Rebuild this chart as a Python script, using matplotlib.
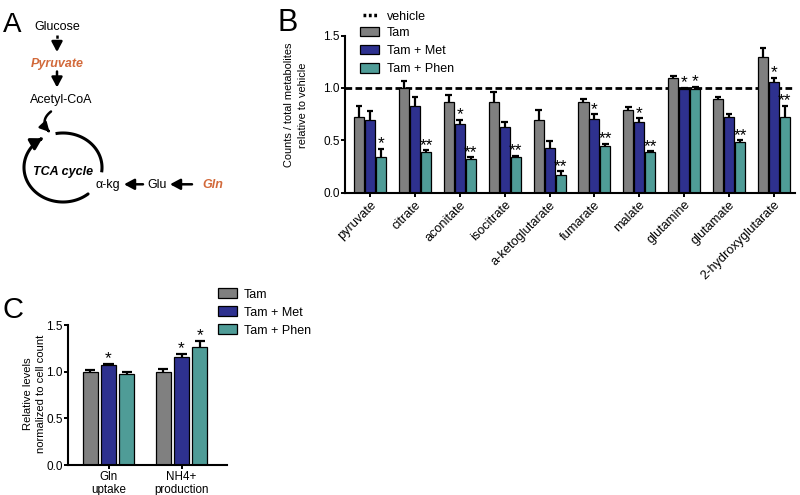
import numpy as np
import matplotlib
matplotlib.use("Agg")
import matplotlib.pyplot as plt
from matplotlib.patches import Rectangle, FancyArrowPatch
from matplotlib.path import Path

plt.rcParams['font.family'] = ['Liberation Sans', 'DejaVu Sans']

# ---------------- data ----------------
metabolites = ["pyruvate", "citrate", "aconitate", "isocitrate", "a-ketoglutarate",
               "fumarate", "malate", "glutamine", "glutamate", "2-hydroxyglutarate"]
series_names = ["Tam", "Tam + Met", "Tam + Phen"]

tam = [0.72, 1.00, 0.865, 0.865, 0.69, 0.865, 0.79, 1.095, 0.89, 1.30]
tam_err = [0.11, 0.07, 0.065, 0.095, 0.10, 0.025, 0.03, 0.015, 0.02, 0.08]
met = [0.695, 0.83, 0.66, 0.63, 0.43, 0.70, 0.67, 0.99, 0.72, 1.06]
met_err = [0.085, 0.08, 0.035, 0.04, 0.06, 0.05, 0.04, 0.01, 0.03, 0.035]
phen = [0.34, 0.39, 0.32, 0.34, 0.17, 0.445, 0.385, 0.99, 0.485, 0.72]
phen_err = [0.08, 0.015, 0.015, 0.01, 0.035, 0.02, 0.01, 0.02, 0.015, 0.11]
met_sig = ["", "", "*", "", "", "*", "*", "*", "", "*"]
phen_sig = ["*", "**", "**", "**", "**", "**", "**", "*", "**", "**"]
vehicle_level = 1.0

c_categories = ["Gln\nuptake", "NH4+\nproduction"]
c_tam = [1.0, 1.0]
c_tam_err = [0.02, 0.03]
c_met = [1.068, 1.158]
c_met_err = [0.018, 0.032]
c_phen = [0.975, 1.266]
c_phen_err = [0.025, 0.067]
c_met_sig = ["*", "*"]
c_phen_sig = ["", "*"]

colors = ["#808080", "#2e318f", "#4f9c97"]
orange = "#d2693a"

W, H = 800, 495
fig = plt.figure(figsize=(8, 4.95), dpi=100)


def frac(x0, y0, x1, y1):
    return [x0 / W, 1 - y1 / H, (x1 - x0) / W, (y1 - y0) / H]


def style_axes(ax):
    for s in ["top", "right"]:
        ax.spines[s].set_visible(False)
    for s in ["left", "bottom"]:
        ax.spines[s].set_linewidth(1.5)
    ax.tick_params(axis="both", width=1.4, length=3, labelsize=8.5)
    ax.tick_params(axis="y", pad=0.8)
    ax.tick_params(axis="x", pad=1.5)
    ax.set_ylim(0, 1.5)
    ax.set_yticks([0, 0.5, 1.0, 1.5])
    ax.set_yticklabels(["0.0", "0.5", "1.0", "1.5"])


def draw_group(ax, x, series, errs, sigs, offsets, width, capw):
    for vals, err, off, col, sig in zip(series, errs, offsets, colors, sigs):
        xs = np.asarray(x) + off
        vals = np.asarray(vals)
        tops = vals + np.asarray(err)
        ax.bar(xs, vals, width=width, color=col, edgecolor="black", linewidth=0.9, zorder=2)
        ax.vlines(xs, vals, tops, color="black", lw=1.6, zorder=3)
        ax.hlines(tops, xs - capw, xs + capw, color="black", lw=1.6, zorder=3)
        if sig is None:
            continue
        for xi, ti, s in zip(xs, tops, sig):
            if s:
                ax.annotate(s, xy=(xi, ti), xytext=(0, 0.3), textcoords="offset points",
                            ha="center", va="baseline", fontsize=12.5, zorder=4)


# ---------------- Panel B ----------------
axB = fig.add_axes(frac(345, 35.7, 795, 192.5))
axB.patch.set_alpha(0)
style_axes(axB)
xb = np.arange(len(metabolites))
axB.axhline(vehicle_level, color="black", lw=2.0, dashes=(2.4, 1.2), zorder=1)
draw_group(axB, xb, [tam, met, phen], [tam_err, met_err, phen_err],
           [None, met_sig, phen_sig], [-0.245, 0, 0.245], 0.225, 0.075)
axB.set_xlim(-0.56, 9.47)
axB.set_xticks(xb)
axB.set_xticklabels(metabolites, rotation=45, ha="right", rotation_mode="anchor",
                    fontsize=9.2)
axB.set_ylabel("Counts / total metabolites\nrelative to vehicle", fontsize=7.9,
               linespacing=1.5)
axB.yaxis.set_label_coords((308 - 345) / 450, (192.5 - 105) / 156.8)

# ---------------- Panel C ----------------
axC = fig.add_axes(frac(68, 325, 227, 465))
axC.patch.set_alpha(0)
style_axes(axC)
xc = np.arange(len(c_categories))
draw_group(axC, xc, [c_tam, c_met, c_phen], [c_tam_err, c_met_err, c_phen_err],
           [None, c_met_sig, c_phen_sig], [-0.25, 0, 0.25], 0.205, 0.07)
axC.set_xlim(-0.555, 1.623)
axC.set_xticks(xc)
axC.set_xticklabels(c_categories, fontsize=8.4, linespacing=1.05)
axC.set_ylabel("Relative levels\nnormalized to cell count", fontsize=8.1,
               linespacing=1.4)
axC.yaxis.set_label_coords((46 - 68) / 159, (465 - 393.5) / 140)

# ---------------- overlay (panel A, legends, letters) ----------------
ov = fig.add_axes([0, 0, 1, 1], zorder=10)
ov.set_xlim(0, W)
ov.set_ylim(H, 0)
ov.axis("off")
ov.patch.set_alpha(0)

# panel letters
for letter, x, y, fs in [("A", 3, 32, 20), ("B", 277, 31, 22), ("C", 3, 318, 21)]:
    ov.text(x, y, letter, fontsize=fs, ha="left", va="baseline")

# legend B
ov.plot([363, 377.5], [15, 15], color="black", lw=2.5, dashes=(0.8, 0.75))
ov.text(387, 15 + 4.5, "vehicle", fontsize=9, va="baseline")
for i, (name, col) in enumerate(zip(series_names, colors)):
    yc = 31.5 + 18.2 * i
    ov.add_patch(Rectangle((360, yc - 4.8), 19, 9.6, facecolor=col, edgecolor="black", lw=0.9))
    ov.text(387, yc + 4.5, name, fontsize=9, va="baseline")

# legend C
for i, (name, col) in enumerate(zip(series_names, colors)):
    yc = 293 + 18 * i
    ov.add_patch(Rectangle((218, yc - 4.8), 19, 9.6, facecolor=col, edgecolor="black", lw=0.9))
    ov.text(244, yc + 4.5, name, fontsize=9, va="baseline")

# panel A diagram
ov.text(57.5, 30, "Glucose", fontsize=9, ha="center", va="baseline")
ov.text(57.5, 66.5, "Pyruvate", fontsize=9, ha="center", va="baseline",
        color=orange, fontweight="bold", fontstyle="italic")
ov.text(60.8, 103, "Acetyl-CoA", fontsize=9, ha="center", va="baseline")
ov.text(62.8, 175.5, "TCA cycle", fontsize=9, ha="center", va="baseline",
        fontweight="bold", fontstyle="italic")
ov.text(107.5, 188, "α-kg", fontsize=9, ha="center", va="baseline")
ov.text(156.7, 188, "Glu", fontsize=9, ha="center", va="baseline")
ov.text(202.5, 188, "Gln", fontsize=9, ha="left", va="baseline",
        color=orange, fontweight="bold", fontstyle="italic")

ov.plot([57, 57], [35, 46], color="black", lw=1.8, dashes=(1.3, 1.0))
astyle = "-|>,head_length=0.6,head_width=0.32"
head = dict(arrowstyle=astyle, color="black", lw=1.8, shrinkA=0, shrinkB=0,
            mutation_scale=10)
ov.annotate("", xy=(57, 52), xytext=(57, 45), arrowprops=head)
ov.annotate("", xy=(57, 87.5), xytext=(57, 71.5), arrowprops=head)
ov.annotate("", xy=(124, 184.3), xytext=(143, 184.3), arrowprops=head)
ov.annotate("", xy=(170, 184.3), xytext=(192, 184.3), arrowprops=head)

# small curved arrow from Acetyl-CoA into the cycle (quadratic curve sampled)
tt = np.linspace(0, 1, 30)[:, None]
p0, p1, p2 = np.array([51, 111.5]), np.array([39, 121]), np.array([49.5, 132])
curve_pts = (1 - tt) ** 2 * p0 + 2 * (1 - tt) * tt * p1 + tt ** 2 * p2
ov.add_patch(FancyArrowPatch(path=Path(curve_pts), arrowstyle=astyle, mutation_scale=9,
                             lw=1.8, color="black"))

cx, cy, rx, ry = 63, 167.5, 39, 34.5
t1 = np.radians(np.linspace(101, -8, 80))
ov.plot(cx + rx * np.cos(t1), cy - ry * np.sin(t1), color="black", lw=2.2,
        solid_capstyle="butt")
t2 = np.radians(np.linspace(-50, -238, 120))
pts = np.column_stack([cx + rx * np.cos(t2), cy - ry * np.sin(t2)])
ov.add_patch(FancyArrowPatch(path=Path(pts), arrowstyle="-|>,head_length=0.65,head_width=0.38",
                             mutation_scale=10, lw=2.2, color="black"))

fig.savefig("out.png", dpi=100)
